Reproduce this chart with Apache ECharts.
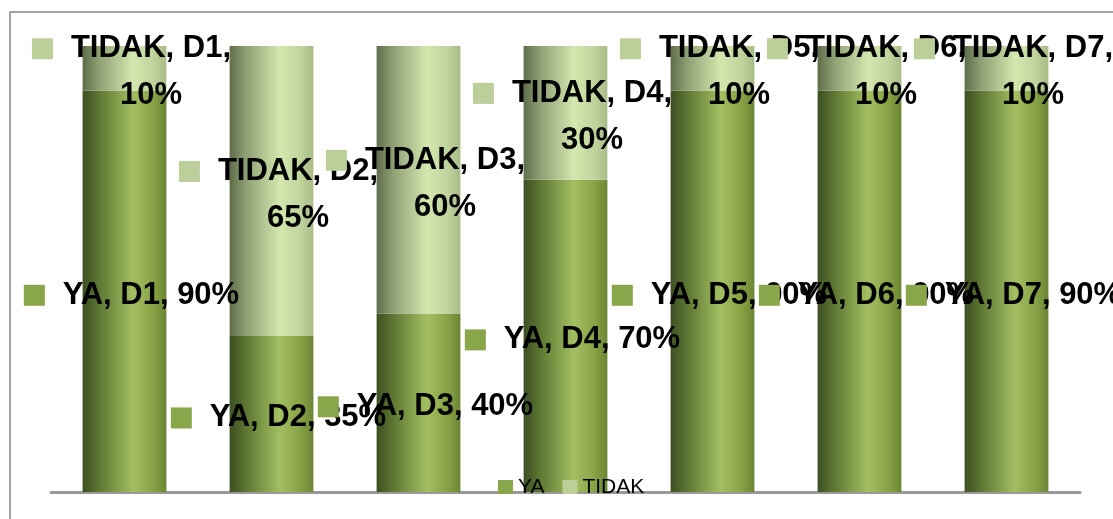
<!DOCTYPE html>
<html>
<head>
<meta charset="utf-8">
<script src="https://cdn.jsdelivr.net/npm/echarts@6/dist/echarts.min.js"></script>
<style>
    html, body { margin: 0; padding: 0; background: #fff; }
    #chart { width: 1113px; height: 519px; }
</style>
</head>
<body>
<div id="chart"></div>
<script>
// 类别与数据
const categories = ["D1", "D2", "D3", "D4", "D5", "D6", "D7"];
const yaValues = [90, 35, 40, 70, 90, 90, 90];
const tidakValues = [10, 65, 60, 30, 10, 10, 10];

const yaKey = "#8aa64a";
const tidakKey = "#bccf9b";

// 圆柱感的横向渐变
function barGradient(stops) {
    return new echarts.graphic.LinearGradient(0, 0, 1, 0, stops.map((c, i) => ({
        offset: [0, 0.2, 0.6, 0.85, 1][i],
        color: c,
    })));
}

function makeLabel(keyColor) {
    return {
        show: true,
        position: "inside",
        offset: [7, 4],
        align: "center",
        formatter(p) {
            const txt = p.seriesName + ", " + p.name + ", " + p.value + "%";
            if (txt.length > 12) {
                return "{sq|}{t|" + p.seriesName + ", " + p.name + ",}\n{v|" + p.value + "%}";
            }
            return "{sq|}{t|" + txt + "}";
        },
        rich: {
            sq: { width: 21, height: 21, backgroundColor: keyColor, verticalAlign: "middle", lineHeight: 47 },
            t: {
                fontFamily: "Liberation Sans", fontWeight: "bold", fontSize: 31,
                color: "#000", padding: [0, 0, 0, 18], lineHeight: 47, verticalAlign: "middle",
            },
            v: {
                fontFamily: "Liberation Sans", fontWeight: "bold", fontSize: 31,
                color: "#000", padding: [0, 0, 0, 39], lineHeight: 47, verticalAlign: "middle",
            },
        },
    };
}

const chart = echarts.init(document.getElementById("chart"));

chart.setOption({
    animation: false,
    grid: { left: 51, right: 33, top: 46, bottom: 27 },
    legend: {
        left: 493,
        top: 472,
        itemWidth: 15,
        itemHeight: 15,
        itemGap: 18,
        icon: "rect",
        textStyle: { fontFamily: "Liberation Sans", fontSize: 21, color: "#000" },
        data: [
            { name: "YA", itemStyle: { color: yaKey } },
            { name: "TIDAK", itemStyle: { color: tidakKey } },
        ],
    },
    xAxis: {
        type: "category",
        data: categories,
        axisLine: { lineStyle: { color: "#999", width: 3 } },
        axisTick: { show: false },
        axisLabel: { show: false },
    },
    yAxis: {
        type: "value",
        min: 0,
        max: 100,
        show: false,
        splitLine: { show: false },
    },
    series: [
        {
            name: "YA",
            type: "bar",
            stack: "total",
            barCategoryGap: "43%",
            data: yaValues,
            itemStyle: {
                color: barGradient(["#3d4f22", "#5e7733", "#a3bf62", "#86a244", "#6b8535"]),
            },
            label: makeLabel(yaKey),
            z: 2,
        },
        {
            name: "TIDAK",
            type: "bar",
            stack: "total",
            data: tidakValues,
            itemStyle: {
                color: barGradient(["#5f6e4b", "#8fa074", "#d3e7af", "#bfd39c", "#a9bb88"]),
            },
            label: makeLabel(tidakKey),
            z: 2,
        },
    ],
    graphic: [
        {
            type: "rect",
            shape: { x: 10, y: 12, width: 1200, height: 600 },
            style: { fill: "none", stroke: "#888", lineWidth: 1.5 },
            z: 50,
        },
        {
            type: "rect",
            shape: { x: 12, y: 494, width: 1200, height: 40 },
            style: { fill: "#fff" },
            z: 100,
        },
    ],
});
</script>
</body>
</html>
